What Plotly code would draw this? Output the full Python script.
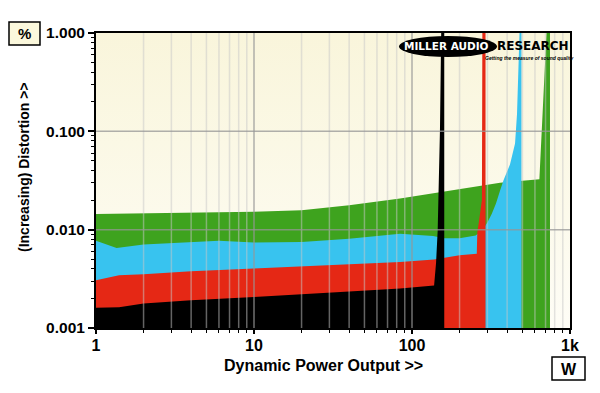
import plotly.graph_objects as go

# ---------------- data (power in W, THD+N in %) ----------------
black_w = [1, 1.4, 2, 4, 10, 20, 40, 84, 120, 138, 142, 145.4, 150.3, 153.5, 160]
black_thd = [0.00161, 0.00163, 0.00177, 0.00191, 0.00207, 0.00219, 0.00235, 0.00252,
             0.00265, 0.0027, 0.0046, 0.0098, 0.103, 1.5, 1.5]

red_w = [1, 1.4, 2, 4, 10, 20, 40, 84, 138, 160, 200, 257, 259, 266, 277, 279, 292]
red_thd = [0.00306, 0.00344, 0.00352, 0.00378, 0.00403, 0.00425, 0.0045, 0.0047, 0.00497,
           0.00521, 0.0055, 0.0057, 0.0093, 0.0125, 0.02, 1.5, 1.5]

blue_w = [1, 1.35, 2, 4, 6, 10, 20, 40, 84, 136, 160, 200, 253, 280, 300, 320, 340,
          361, 380, 417, 449, 462, 475, 483, 493]
blue_thd = [0.0077, 0.0065, 0.00707, 0.0075, 0.0077, 0.0074, 0.0075, 0.0081, 0.0091,
            0.0086, 0.0082, 0.0082, 0.0087, 0.0100, 0.0118, 0.0145, 0.0185, 0.025,
            0.032, 0.046, 0.075, 0.15, 0.5, 1.5, 1.5]

green_w = [1, 2, 4, 10, 20, 40, 84, 136, 200, 282, 361, 500, 640, 719, 747]
green_thd = [0.0144, 0.0146, 0.0148, 0.0152, 0.0158, 0.0177, 0.0208, 0.0234, 0.026,
             0.0284, 0.030, 0.0315, 0.0325, 1.5, 1.5]

x_tickvals = [1, 10, 100, 1000]
x_ticktext = ["1", "10", "100", "1k"]
y_tickvals = [0.001, 0.01, 0.1, 1]
y_ticktext = ["0.001", "0.010", "0.100", "1.000"]
x_minor = [m * d for d in (1, 10, 100) for m in range(2, 10)]
y_minor = [m * d for d in (0.001, 0.01, 0.1) for m in range(2, 10)]
X_MIN, X_MAX = 1, 1000
Y_MIN, Y_MAX = 0.001, 1.0

FONT = "Liberation Sans, Arial, sans-serif"
LOGO_FONT = "DejaVu Sans, Liberation Sans, sans-serif"
OFF = 8  # page body margin
W, H = 600 - OFF, 393 - OFF
ML, MT = 96 - OFF, 33 - OFF
PW, PH = 474, 295
MR, MB = W - ML - PW, H - MT - PH


def px(x):
    return (x - OFF - ML) / PW


def py(y):
    return (MT + PH - (y - OFF)) / PH


fig = go.Figure()

# background gradient
fig.add_trace(go.Scatter(
    x=[X_MIN, X_MAX, X_MAX, X_MIN, X_MIN], y=[Y_MIN, Y_MIN, Y_MAX, Y_MAX, Y_MIN],
    fill="toself", mode="lines", line=dict(width=0),
    fillgradient=dict(type="vertical", colorscale=[[0, "#FEFDF6"], [1, "#F9F5DB"]]),
    hoverinfo="skip", showlegend=False))


def area(xs, ys, color):
    xx = list(xs) + [xs[-1], xs[0]]
    yy = list(ys) + [Y_MIN, Y_MIN]
    fig.add_trace(go.Scatter(x=xx, y=yy, fill="toself", fillcolor=color, mode="lines",
                             line=dict(width=0, color=color), hoverinfo="skip",
                             showlegend=False))


area(green_w, green_thd, "#3EA31E")
area(blue_w, blue_thd, "#38C3EF")
area(red_w, red_thd, "#E52815")
area(black_w, black_thd, "#000000")

# gridlines above fills
for v in x_minor:
    fig.add_shape(type="line", xref="x", yref="paper", x0=v, x1=v, y0=0, y1=1,
                  line=dict(color="rgba(200,200,200,0.5)", width=1.5), layer="above")
for v in (10, 100):
    fig.add_shape(type="line", xref="x", yref="paper", x0=v, x1=v, y0=0, y1=1,
                  line=dict(color="rgba(150,150,150,0.75)", width=1.5), layer="above")
for v in (0.01, 0.1):
    fig.add_shape(type="line", xref="paper", yref="y", x0=0, x1=1, y0=v, y1=v,
                  line=dict(color="rgba(150,150,150,0.75)", width=1.5), layer="above")

# logo
fig.add_shape(type="circle", xref="paper", yref="paper", x0=px(399), x1=px(497),
              y0=py(57), y1=py(36), fillcolor="black", line=dict(width=0), layer="above")

# unit boxes
fig.add_shape(type="rect", xref="paper", yref="paper", x0=px(9), x1=px(40),
              y0=py(45), y1=py(22), fillcolor="#FBF8DC", line=dict(color="black", width=1.5))
fig.add_shape(type="rect", xref="paper", yref="paper", x0=px(552), x1=px(585),
              y0=py(380), y1=py(357), fillcolor="white", line=dict(color="black", width=1.5))

ann = [
    dict(text="%", x=px(24.5), y=py(34), size=15),
    dict(text="W", x=px(568.5), y=py(369), size=16),
    dict(text="Dynamic Power Output >>", x=px(323), y=py(365), size=16),
    dict(text="(Increasing) Distortion >>", x=px(24), y=py(167), size=14, angle=-90),
    dict(text="MILLER AUDIO", x=px(446), y=py(46.5), size=10.5, color="white", family=LOGO_FONT),
    dict(text="RESEARCH", x=px(532.5), y=py(46), size=12, family=LOGO_FONT),
    dict(text="<i>Getting the measure of sound quality</i>", x=px(529), y=py(57.5), size=5),
]
for a in ann:
    fig.add_annotation(text=a["text"], x=a["x"], y=a["y"], xref="paper", yref="paper",
                       showarrow=False, xanchor="center", yanchor="middle",
                       textangle=a.get("angle", 0),
                       font=dict(family=a.get("family", FONT), size=a["size"],
                                 color=a.get("color", "black"), weight="bold"))

axis_common = dict(
    type="log", showgrid=False, zeroline=False, showline=True, linecolor="black",
    linewidth=2, mirror=True, ticks="outside", tickwidth=1.5, tickcolor="black",
)
fig.update_xaxes(**axis_common, range=[0, 3], tickvals=x_tickvals, ticktext=x_ticktext,
                 ticklen=4, ticklabelstandoff=-2,
                 tickfont=dict(family=FONT, size=16, color="black", weight="bold"),
                 minor=dict(tickvals=x_minor, ticks="outside", ticklen=3, tickwidth=1,
                            tickcolor="black", showgrid=False))
fig.update_yaxes(**axis_common, range=[-3, 0], tickvals=y_tickvals, ticktext=y_ticktext,
                 ticklen=6,
                 tickfont=dict(family=FONT, size=15.5, color="black", weight="bold"),
                 minor=dict(tickvals=y_minor, ticks="outside", ticklen=3, tickwidth=1,
                            tickcolor="black", showgrid=False))

fig.update_layout(width=W, height=H, autosize=False,
                  margin=dict(l=ML, r=MR, t=MT, b=MB, pad=0),
                  paper_bgcolor="white", plot_bgcolor="#FBF8E6", showlegend=False)

fig.write_html("out.html")
